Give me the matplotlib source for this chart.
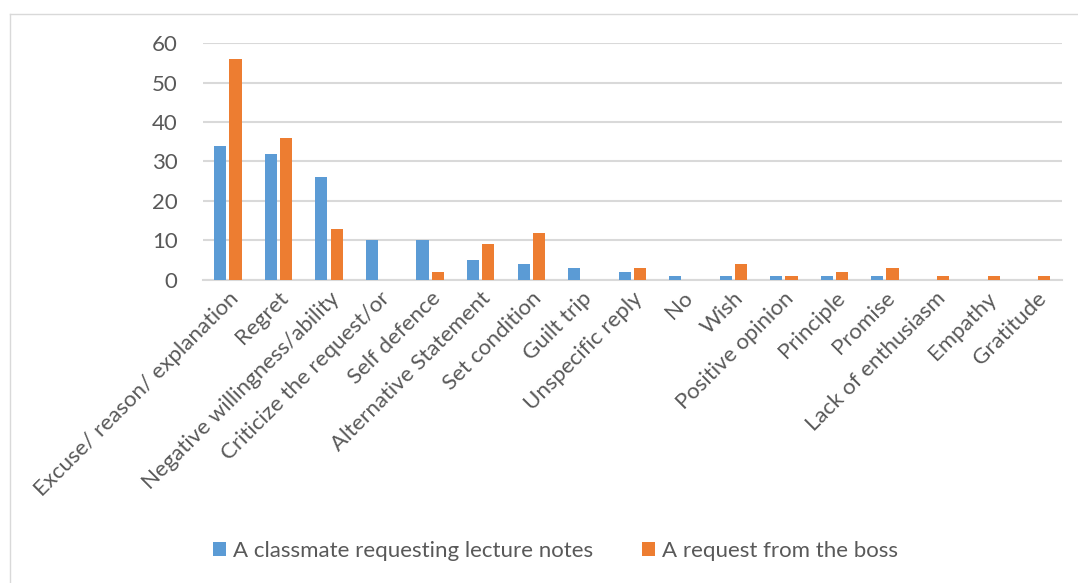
import matplotlib.pyplot as plt
import numpy as np
from matplotlib.lines import Line2D

categories = ['Excuse/ reason/ explanation', 'Regret', 'Negative willingness/ability',
              'Criticize the request/or', 'Self defence', 'Alternative Statement',
              'Set condition', 'Guilt trip', 'Unspecific reply', 'No', 'Wish',
              'Positive opinion', 'Principle', 'Promise', 'Lack of enthusiasm',
              'Empathy', 'Gratitude']
classmate = [34, 32, 26, 10, 10, 5, 4, 3, 2, 1, 1, 1, 1, 1, 0, 0, 0]
boss = [56, 36, 13, 0, 2, 9, 12, 0, 3, 0, 4, 1, 2, 3, 1, 1, 1]
series_names = ['A classmate requesting lecture notes', 'A request from the boss']

plt.rcParams['font.family'] = ['Lato', 'DejaVu Sans']
txt = '#595959'
grid = '#d9d9d9'

fig = plt.figure(figsize=(10.78, 5.83), dpi=100)
ax = fig.add_axes([0.188, 0.52, 0.797, 0.406])

index = np.arange(len(categories))
bw = 0.24
b1 = ax.bar(index - 0.15, classmate, bw, color='#5b9bd5', zorder=3)
b2 = ax.bar(index + 0.15, boss, bw, color='#ed7d31', zorder=3)

ax.set_xlim(-0.5, len(categories) - 0.5)
ax.set_ylim(0, 60)
ax.set_yticks(range(0, 61, 10))
ax.yaxis.grid(True, color=grid, linewidth=1.5, zorder=0)
ax.set_axisbelow(True)
for s in ['top', 'right', 'left']:
    ax.spines[s].set_visible(False)
ax.spines['bottom'].set_color(grid)
ax.spines['bottom'].set_linewidth(1.5)
ax.tick_params(axis='both', length=0, colors=txt, labelsize=16)
ax.tick_params(axis='y', pad=18)
ax.set_xticks(index)
ax.set_xticklabels(categories, rotation=45, ha='right', rotation_mode='anchor')
ax.tick_params(axis='x', pad=6)

fig.legend([b1, b2], series_names, loc='center', bbox_to_anchor=(0.515, 0.055),
           ncol=2, frameon=False, fontsize=16, labelcolor=txt,
           handlelength=0.6, handleheight=0.6, handletextpad=0.3, columnspacing=2.2)

# thin outer frame (top and left edges only visible)
fig.add_artist(Line2D([10 / 1078, 1], [1 - 14 / 583, 1 - 14 / 583], color=grid, linewidth=1,
                      transform=fig.transFigure))
fig.add_artist(Line2D([10 / 1078, 10 / 1078], [0, 1 - 14 / 583], color=grid, linewidth=1,
                      transform=fig.transFigure))

fig.savefig('out.png', dpi=100)
